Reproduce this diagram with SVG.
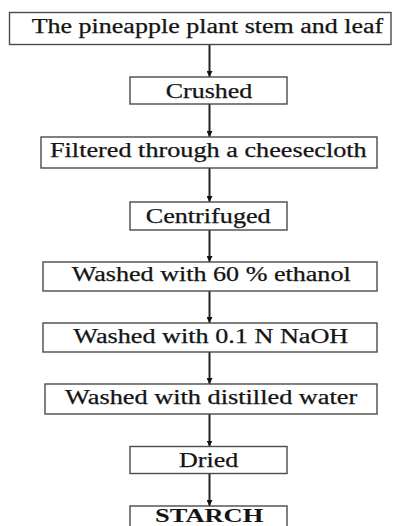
<svg xmlns="http://www.w3.org/2000/svg" width="396" height="526" viewBox="0 0 396 526">
<defs>
<style>
.box{fill:#fff;stroke:#4a4a4a;stroke-width:1.4}
.lbl{font-family:"Liberation Serif","Times New Roman",serif;font-size:20px;fill:#141414;stroke:#141414;stroke-width:0.25}
.bold{font-weight:bold;font-size:18px;stroke-width:0}
.conn{stroke:#222;stroke-width:2;fill:none;marker-end:url(#ah)}
</style>
<marker id="ah" viewBox="0 0 6 6" refX="6" refY="3" markerWidth="6" markerHeight="6" orient="auto" markerUnits="userSpaceOnUse">
<path d="M0,0 L6,3 L0,6 z" fill="#111"/>
</marker>
</defs>
<rect width="396" height="526" fill="#fff"/>
<g id="connectors">
<line class="conn" x1="209.5" y1="44.5" x2="209.5" y2="77"/>
<line class="conn" x1="209.5" y1="104" x2="209.5" y2="137"/>
<line class="conn" x1="209.5" y1="168" x2="209.5" y2="202"/>
<line class="conn" x1="209.5" y1="230" x2="209.5" y2="262"/>
<line class="conn" x1="209.5" y1="291" x2="209.5" y2="323"/>
<line class="conn" x1="209.5" y1="352" x2="209.5" y2="384"/>
<line class="conn" x1="209.5" y1="414" x2="209.5" y2="446.5"/>
<line class="conn" x1="209.5" y1="473.5" x2="209.5" y2="506"/>
</g>
<g id="n1"><rect class="box" x="9.5" y="12.5" width="381.5" height="32"/><text class="lbl" x="31.7" y="33" textLength="351.6" lengthAdjust="spacingAndGlyphs">The pineapple plant stem and leaf</text></g>
<g id="n2"><rect class="box" x="130" y="77" width="157" height="27"/><text class="lbl" x="165.7" y="98.3" textLength="86.6" lengthAdjust="spacingAndGlyphs">Crushed</text></g>
<g id="n3"><rect class="box" x="41" y="137" width="336" height="31"/><text class="lbl" x="50" y="156.7" textLength="316.7" lengthAdjust="spacingAndGlyphs">Filtered through a cheesecloth</text></g>
<g id="n4"><rect class="box" x="130" y="202" width="157" height="28"/><text class="lbl" x="145.7" y="222.7" textLength="125" lengthAdjust="spacingAndGlyphs">Centrifuged</text></g>
<g id="n5"><rect class="box" x="43" y="262" width="334" height="29"/><text class="lbl" x="71.7" y="281" textLength="279" lengthAdjust="spacingAndGlyphs">Washed with 60 % ethanol</text></g>
<g id="n6"><rect class="box" x="43" y="323" width="334" height="29"/><text class="lbl" x="73.3" y="343.3" textLength="275" lengthAdjust="spacingAndGlyphs">Washed with 0.1 N NaOH</text></g>
<g id="n7"><rect class="box" x="45" y="384" width="332" height="30"/><text class="lbl" x="65" y="404.3" textLength="292.3" lengthAdjust="spacingAndGlyphs">Washed with distilled water</text></g>
<g id="n8"><rect class="box" x="130" y="446.5" width="157" height="27"/><text class="lbl" x="179" y="466.7" textLength="59.3" lengthAdjust="spacingAndGlyphs">Dried</text></g>
<g id="n9"><rect class="box" x="130" y="506" width="157" height="30"/><text class="lbl bold" x="155" y="522" textLength="108.3" lengthAdjust="spacingAndGlyphs">STARCH</text></g>
</svg>
